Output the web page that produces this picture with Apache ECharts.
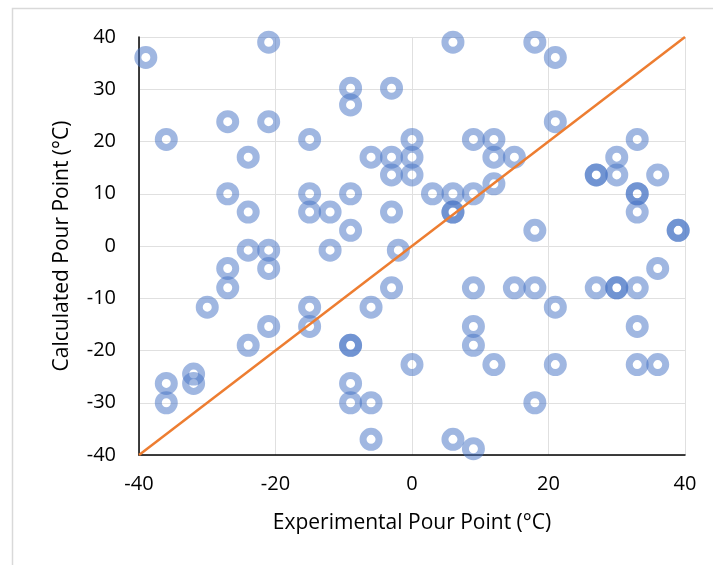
<!DOCTYPE html>
<html>
<head>
<meta charset="utf-8">
<title>Pour Point</title>
<script src="https://cdn.jsdelivr.net/npm/echarts@6/dist/echarts.min.js"></script>
<style>
    html, body { margin: 0; padding: 0; background: #fff; }
    #chart { width: 713px; height: 565px; }
</style>
</head>
<body>
<div id="chart"></div>
<script>
// experimental vs calculated pour point (°C), one entry per marker
// repeated pairs are points that sit on top of each other (darker rings)
var expX = [
    -21, 6, 18,
    -39, 21,
    -9, -3,
    -9,
    -27, -21, 21,
    -36, -15, 0, 9, 12, 33,
    -24, -6, -3, 0, 12, 15, 30,
    -3, 0, 27, 27, 30, 36,
    12,
    -27, -15, -9, 3, 6, 9, 33, 33,
    -24, -15, -12, -3, 6, 6, 33,
    -9, 18, 39, 39,
    -24, -21, -12, -2,
    -27, -21, 36,
    -27, -3, 9, 15, 18, 27, 30, 30, 33,
    -30, -15, -6, 21,
    -21, -15, 9, 33,
    -24, -9, -9, 9,
    0, 12, 21, 33, 36,
    -32,
    -36, -32, -9,
    -36, -9, -6, 18,
    -6, 6,
    9
];
var calcY = [
    39, 39, 39,
    36.1, 36.1,
    30.2, 30.2,
    27,
    23.8, 23.8, 23.8,
    20.4, 20.4, 20.4, 20.4, 20.4, 20.4,
    17, 17, 17, 17, 17, 17, 17,
    13.6, 13.6, 13.6, 13.6, 13.6, 13.6,
    11.9,
    10, 10, 10, 10, 10, 10, 10, 10,
    6.5, 6.5, 6.5, 6.5, 6.5, 6.5, 6.5,
    3, 3, 3, 3,
    -0.8, -0.8, -0.8, -0.8,
    -4.3, -4.3, -4.3,
    -8, -8, -8, -8, -8, -8, -8, -8, -8,
    -11.7, -11.7, -11.7, -11.7,
    -15.4, -15.4, -15.4, -15.4,
    -19, -19, -19, -19,
    -22.7, -22.7, -22.7, -22.7, -22.7,
    -24.5,
    -26.3, -26.3, -26.3,
    -30, -30, -30, -30,
    -37, -37,
    -38.8
];
// y = x reference line
var parityX = [-40, 40];
var xTicks = [-40, -20, 0, 20, 40];
var yTicks = [-40, -30, -20, -10, 0, 10, 20, 30, 40];

function buildPairs(xs, ys) {
    var out = [];
    for (var i = 0; i < xs.length; i++) {
        out.push([xs[i], ys[i]]);
    }
    return out;
}

var FONT = 'Open Sans';

var myChart = echarts.init(document.getElementById('chart'), null, { renderer: 'canvas' });
var option = {
    backgroundColor: '#fff',
    animation: false,
    textStyle: { fontFamily: FONT },
    graphic: [{
        // outer chart frame (only left and top edges are inside the picture)
        type: 'rect',
        shape: { x: 12.5, y: 8.5, width: 760, height: 620 },
        style: { fill: null, stroke: '#d9d9d9', lineWidth: 1.5 },
        silent: true,
        z: -10
    }],
    grid: { left: 139, right: 28, top: 37, bottom: 110 },
    xAxis: {
        type: 'value',
        min: xTicks[0],
        max: xTicks[xTicks.length - 1],
        interval: 20,
        name: 'Experimental Pour Point (°C)',
        nameLocation: 'middle',
        nameGap: 58,
        nameTextStyle: { fontSize: 21, color: '#000', fontFamily: FONT },
        axisLine: { onZero: false, lineStyle: { color: '#000', width: 1.5 } },
        axisTick: { show: false },
        axisLabel: { fontSize: 20, color: '#000', margin: 19, fontFamily: FONT },
        splitLine: { show: true, lineStyle: { color: '#e0e0e0', width: 1 } }
    },
    yAxis: {
        type: 'value',
        min: yTicks[0],
        max: yTicks[yTicks.length - 1],
        interval: 10,
        name: 'Calculated Pour Point (°C)',
        nameLocation: 'middle',
        nameGap: 66,
        nameTextStyle: { fontSize: 21, color: '#000', fontFamily: FONT },
        axisLine: { onZero: false, lineStyle: { color: '#000', width: 1.5 } },
        axisTick: { show: false },
        axisLabel: { fontSize: 20, color: '#000', margin: 23, fontFamily: FONT },
        splitLine: { show: true, lineStyle: { color: '#e0e0e0', width: 1 } }
    },
    series: [{
        type: 'scatter',
        data: buildPairs(expX, calcY),
        symbol: 'circle',
        symbolSize: 16,
        itemStyle: {
            color: 'rgba(255,255,255,0)',
            borderColor: 'rgba(68,114,196,0.64)',
            borderWidth: 7
        },
        z: 2
    }, {
        type: 'line',
        data: buildPairs(parityX, parityX),
        symbol: 'none',
        lineStyle: { color: '#ED7D31', width: 2.5 },
        z: 3
    }]
};
myChart.setOption(option, true);
</script>
</body>
</html>
